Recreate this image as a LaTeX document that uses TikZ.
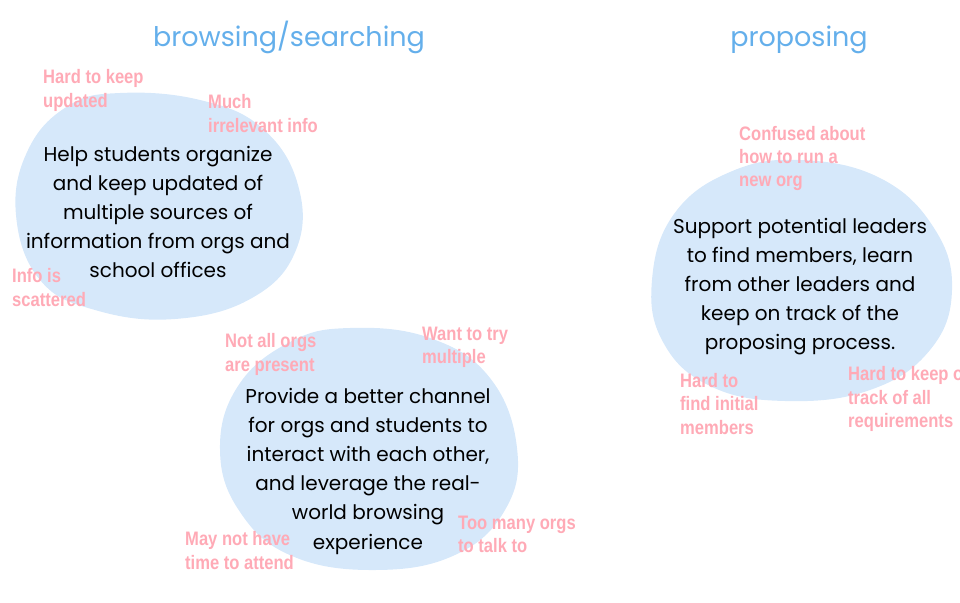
\documentclass[tikz,border=0pt]{standalone}
\usepackage{fontspec}
\setmainfont{Poppins}
\newfontfamily\lblfont{Liberation Sans}[FakeStretch=0.85]
\definecolor{blobfill}{RGB}{214,232,250}
\definecolor{titleblue}{RGB}{100,175,235}
\definecolor{painpink}{RGB}{255,170,182}
\begin{document}
\begin{tikzpicture}[x=1pt,y=-1pt,
  blob/.style={fill=blobfill,draw=none},
  goal/.style={align=center,inner sep=0pt,font=\fontsize{20}{29.2}\selectfont,text=black},
  pain/.style={align=left,inner sep=0pt,anchor=west,font=\lblfont\bfseries\fontsize{19.5}{23.2}\selectfont,text=painpink},
  title/.style={inner sep=0pt,anchor=base,font=\fontsize{27}{30}\selectfont,text=titleblue}]
\useasboundingbox (0,0) rectangle (960,602);
\clip (0,0) rectangle (960,602);
% blobs
\fill[blob] plot[smooth cycle,tension=0.7] coordinates {(120,93) (200,100) (262,128) (298,185) (296,250) (252,298) (175,319) (95,310) (40,280) (16,215) (28,150) (68,106)};
\fill[blob] plot[smooth cycle,tension=0.7] coordinates {(350,328) (430,338) (490,378) (517,448) (505,510) (455,555) (375,570) (292,556) (240,512) (220,450) (238,386) (290,342)};
\fill[blob] plot[smooth cycle,tension=0.7] coordinates {(800,160) (880,178) (934,228) (952,290) (930,350) (870,390) (785,401) (710,386) (663,342) (652,280) (674,214) (730,172)};
% titles
\node[title] (t1) at (289,47) {browsing/searching};
\node[title] (t2) at (799,47) {proposing};
% goals
\node[goal] (g1) at (158,212) {Help students organize\\and keep updated of\\multiple sources of\\information from orgs and\\school offices};
\node[goal] (g2) at (368,471) {Provide a better channel\\for orgs and students to\\interact with each other,\\and leverage the real-\\world browsing\\experience};
\node[goal] (g3) at (800,286.5) {Support potential leaders\\to find members, learn\\from other leaders and\\keep on track of the\\proposing process.};
% pain points
\node[pain] (p1) at (43,90.5) {Hard to keep\\updated};
\node[pain] (p2) at (208,113.5) {Much\\irrelevant info};
\node[pain] (p3) at (12,287.5) {Info is\\scattered};
\node[pain] (p4) at (225,354.5) {Not all orgs\\are present};
\node[pain] (p5) at (422,347.5) {Want to try\\multiple};
\node[pain] (p6) at (185,550.5) {May not have\\time to attend};
\node[pain] (p7) at (458,534.5) {Too many orgs\\to talk to};
\node[pain] (p8) at (739,158.5) {Confused about\\how to run a\\new org};
\node[pain] (p9) at (680,404) {Hard to\\find initial\\members};
\node[pain] (p10) at (848,399) {Hard to keep on\\track of all\\requirements};
\end{tikzpicture}
\end{document}
